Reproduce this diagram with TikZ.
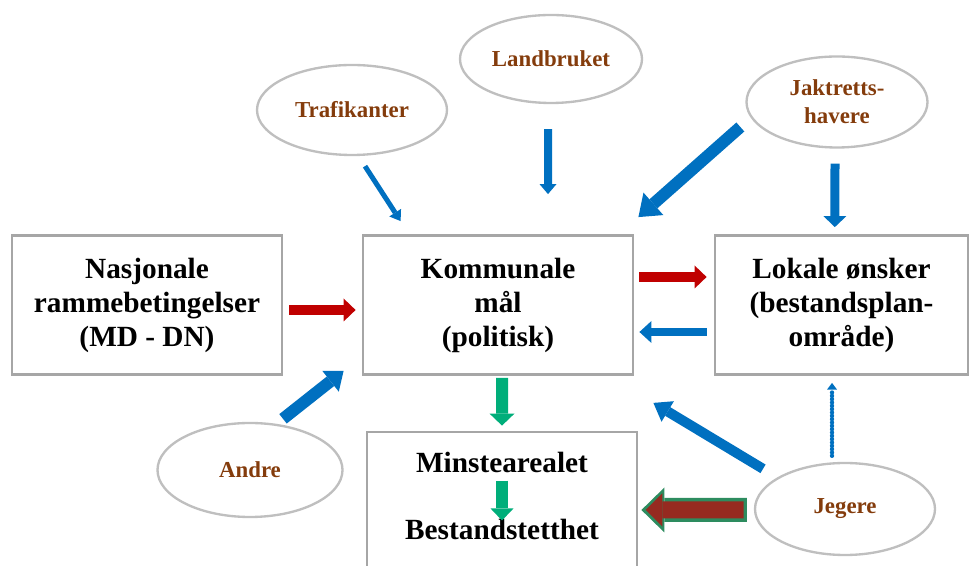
\documentclass[tikz,border=0pt]{standalone}
\usepackage{fontspec}
\setmainfont{Liberation Serif}
\usetikzlibrary{arrows.meta,shapes.geometric}
\definecolor{blaa}{RGB}{0,112,192}
\definecolor{rod}{RGB}{192,0,0}
\definecolor{gronn}{RGB}{0,174,122}
\definecolor{kant}{RGB}{166,166,166}
\definecolor{ovalkant}{RGB}{191,191,191}
\definecolor{brun}{RGB}{132,60,12}
\definecolor{mrkrod}{RGB}{150,42,32}
\definecolor{mrkgronn}{RGB}{45,140,95}

\begin{document}
\begin{tikzpicture}[x=1cm, y=1cm,
  boks/.style={draw=kant, line width=2.4pt, fill=white, align=center, minimum width=8.1cm, minimum height=4.17cm, inner sep=0pt, font=\fontsize{25}{29}\selectfont\bfseries},
  tekst/.style={inner sep=0pt, font=\fontsize{25}{29}\selectfont\bfseries},
  aktor/.style={ellipse, draw=ovalkant, line width=2pt, text=brun, align=center, inner sep=0pt, font=\fontsize{19.5}{24}\selectfont\bfseries},
  spiss/.style 2 args={-{Triangle[length=#1,width=#2,line width=0pt]}},
  blapil/.style={draw=blaa, line width=0.27cm, spiss={0.42cm}{0.72cm}},
  rodpil/.style={draw=rod, line width=0.3cm, spiss={0.36cm}{0.69cm}},
  gronnpil/.style={draw=gronn, line width=0.36cm, spiss={0.36cm}{0.75cm}}]
\useasboundingbox (0,0) rectangle (29.19,16.98);

\node[boks] (nas) at (4.41,7.83) {Nasjonale\\rammebetingelser\\(MD - DN)};
\node[boks] (kom) at (14.94,7.83) {Kommunale\\mål\\(politisk)};
\node[boks, minimum width=7.59cm] (lok) at (25.245,7.83) {Lokale ønsker\\(bestandsplan-\\område)};
\node[boks, minimum height=5.02cm] (min) at (15.06,1.51) {};
\node[tekst] (minst) at (15.06,3.12) {Minstearealet};
\node[tekst] (best) at (15.06,1.11) {Bestandstetthet};

\node[aktor, minimum width=5.7cm, minimum height=2.7cm] (traf) at (10.56,13.68) {Trafikanter};
\node[aktor, minimum width=5.46cm, minimum height=2.64cm] (land) at (16.53,15.21) {Landbruket};
\node[aktor, minimum width=5.43cm, minimum height=2.73cm] (jakt) at (25.11,13.92) {Jaktretts-\\havere};
\node[aktor, minimum width=5.55cm, minimum height=2.82cm] (andre) at (7.5,2.88) {Andre};
\node[aktor, minimum width=5.4cm, minimum height=2.76cm] (jeg) at (25.35,1.71) {Jegere};

\draw[blapil, line width=0.15cm, spiss={0.3cm}{0.42cm}] ([shift={(0.39,-0.3)}]traf.south) -- ([shift={(1.17,0.39)}]kom.north west);
\draw[blapil, line width=0.24cm, spiss={0.3cm}{0.51cm}] ([shift={(-0.09,-0.75)}]land.south) -- ([shift={(1.5,1.2)}]kom.north);
\draw[blapil, line width=0.36cm, spiss={0.6cm}{0.9cm}] ([shift={(-0.15,-0.75)}]jakt.west) -- ([shift={(0.12,0.51)}]kom.north east);
\draw[blapil, spiss={0.33cm}{0.69cm}] ([shift={(-0.06,-0.45)}]jakt.south) -- ([shift={(-0.2,0.21)}]lok.north);
\draw[rodpil] ([shift={(0.18,-0.15)}]nas.east) -- ([shift={(-0.18,-0.15)}]kom.west);
\draw[rodpil] ([shift={(0.15,0.84)}]kom.east) -- ([shift={(-0.21,0.84)}]lok.west);
\draw[blapil, line width=0.24cm, spiss={0.36cm}{0.66cm}] ([shift={(-0.21,-0.81)}]lok.west) -- ([shift={(0.15,-0.81)}]kom.east);
\draw[blapil, line width=0.36cm, spiss={0.5cm}{0.8cm}] ([shift={(0.99,0.09)}]andre.north) -- ([shift={(-0.54,0.15)}]kom.south west);
\draw[blapil, line width=0.3cm, spiss={0.5cm}{0.72cm}] ([shift={(-2.46,-0.21)}]jeg.north) -- ([shift={(0.57,-0.81)}]kom.south east);
\draw[draw=blaa, line width=0.13cm, line cap=round, dash pattern=on 0pt off 0.1cm, spiss={0.2cm}{0.3cm}] ([shift={(-0.39,0.18)}]jeg.north) -- ([shift={(-0.285,-0.21)}]lok.south);
\draw[gronnpil] ([shift={(0.12,-0.06)}]kom.south) -- ([shift={(0,0.15)}]min.north);
\draw[gronnpil, spiss={0.36cm}{0.69cm}] ([shift={(0,-0.24)}]minst.south) -- ([shift={(0,-0.06)}]best.north);
\draw[draw=mrkgronn, line width=0.72cm, spiss={0.69cm}{1.35cm}] ([shift={(-0.21,-0.03)}]jeg.west) -- ([shift={(0.09,0.17)}]min.east);
\draw[draw=mrkrod, line width=0.51cm, spiss={0.5cm}{1.0cm}, shorten <=0.1cm, shorten >=0.13cm] ([shift={(-0.21,-0.03)}]jeg.west) -- ([shift={(0.09,0.17)}]min.east);
\end{tikzpicture}
\end{document}
